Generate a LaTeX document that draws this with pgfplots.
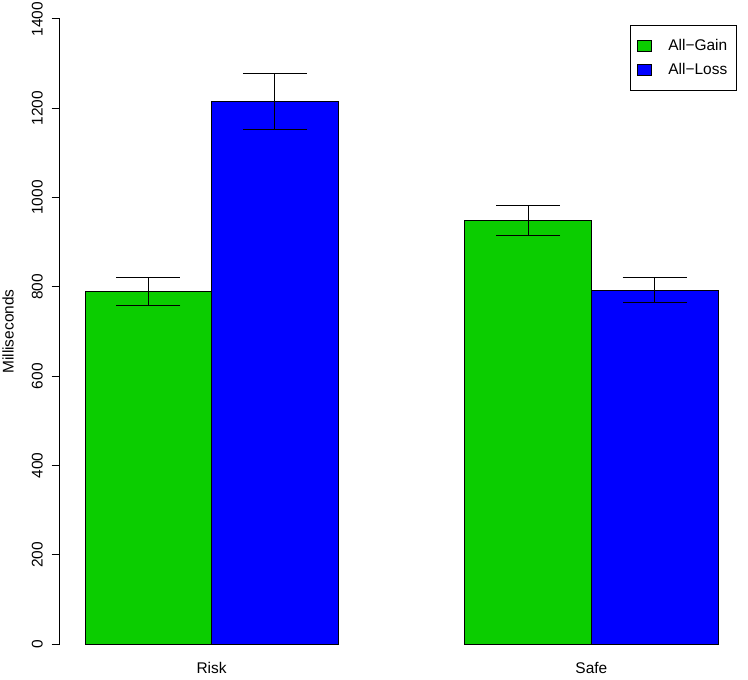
\documentclass[border=0pt]{standalone}
\usepackage{fontspec}
\setmainfont{Liberation Sans}
\usepackage{pgfplots}
\pgfplotsset{compat=1.18}
\definecolor{rgreen}{HTML}{0BCD00}
\definecolor{rblue}{HTML}{0000FF}
\newcommand{\rfont}{\fontsize{11.6pt}{13.9pt}\selectfont}
\begin{document}
\begin{tikzpicture}
\begin{axis}[
  at={(0,0)}, anchor=south west,
  scale only axis,
  width=512.7pt, height=468.75pt,
  xmin=0.8, xmax=6.2, ymin=0, ymax=1400,
  axis lines*=left,
  x axis line style={draw=none},
  y axis line style={black, line width=0.75pt},
  xtick={2,5}, xticklabels={Risk,Safe},
  xtick style={draw=none},
  ytick={0,200,...,1400},
  ytick style={black, line width=0.75pt},
  tick align=outside, major tick length=6pt,
  /pgf/number format/assume math mode=true,
  /pgf/number format/1000 sep={},
  yticklabel style={rotate=90, anchor=south, inner ysep=6.5pt, font=\rfont},
  xticklabel style={font=\rfont, yshift=-4pt},
  ylabel={Milliseconds},
  ylabel style={at={(axis description cs:-0.0756,0.5)}, anchor=center, font=\rfont},
  ybar, bar width=1, bar shift=0pt,
  clip=false,
  legend style={at={(0.9908,0.9904)}, anchor=north east, draw=black, line width=0.6pt,
    font=\rfont, inner xsep=5pt, inner ysep=8.2pt, row sep=4.4pt, column sep=10.25pt,
    nodes={anchor=west, inner xsep=2pt}},
  legend image code/.code={\draw[#1, draw=black, line width=0.5pt] (0pt,-4.3pt) rectangle (10.5pt,4.3pt);},
  legend cell align=left,
]
\addplot[fill=rgreen, draw=black, line width=0.6pt,
  error bars/.cd, y dir=both, y explicit,
  error bar style={black, line width=0.75pt},
  error mark options={black, line width=0.75pt, mark size=24pt, rotate=90}]
  coordinates {(1.5,790) +- (0,31) (4.5,948) +- (0,34)};
\addlegendentry{All−Gain}
\addplot[fill=rblue, draw=black, line width=0.6pt,
  error bars/.cd, y dir=both, y explicit,
  error bar style={black, line width=0.75pt},
  error mark options={black, line width=0.75pt, mark size=24pt, rotate=90}]
  coordinates {(2.5,1215) +- (0,63) (5.5,792) +- (0,28)};
\addlegendentry{All−Loss}
\end{axis}
\pgfresetboundingbox
\path[use as bounding box] (-44.775pt,-26.25pt) rectangle (516.225pt,483pt);
\end{tikzpicture}
\end{document}
